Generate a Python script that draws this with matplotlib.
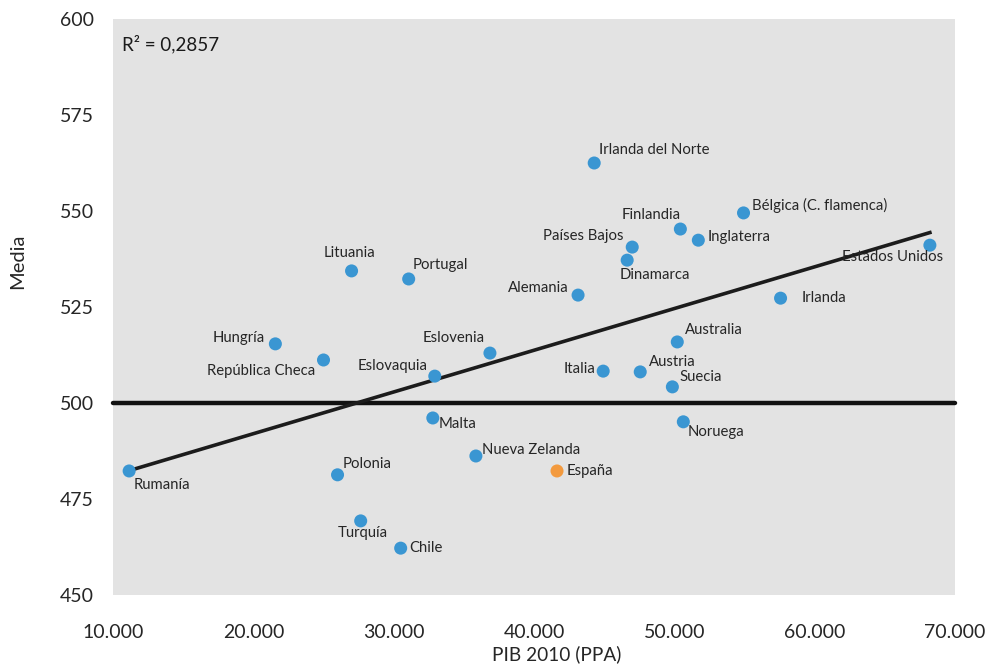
import numpy as np
import matplotlib
matplotlib.use("Agg")
import matplotlib.pyplot as plt

plt.rcParams['font.family'] = ['Lato', 'DejaVu Sans']

# PIB per cápita 2010 (PPA) y puntuación media por país/región
paises = ["Rumanía", "Polonia", "Turquía", "Chile", "Hungría", "República Checa",
          "Lituania", "Portugal", "Eslovaquia", "Malta", "Eslovenia", "Nueva Zelanda",
          "España", "Alemania", "Irlanda del Norte", "Italia", "Países Bajos",
          "Dinamarca", "Austria", "Finlandia", "Inglaterra", "Suecia", "Australia",
          "Noruega", "Bélgica (C. flamenca)", "Irlanda", "Estados Unidos"]
pib = [11150, 26000, 27650, 30500, 21570, 25000,
       27000, 31070, 32930, 32790, 36860, 35860,
       41640, 43140, 44290, 44930, 47000,
       46640, 47570, 50430, 51710, 49860, 50210,
       50640, 54930, 57570, 68210]
media = [482.3, 481.3, 469.3, 462.2, 515.4, 511.2,
         534.4, 532.3, 507.0, 496.1, 513.0, 486.2,
         482.3, 528.1, 562.5, 508.3, 540.6,
         537.2, 508.1, 545.3, 542.4, 504.2, 515.9,
         495.1, 549.5, 527.3, 541.1]
r2_texto = "R² = 0,2857"
x_ticks = [10000, 20000, 30000, 40000, 50000, 60000, 70000]
y_ticks = [450, 475, 500, 525, 550, 575, 600]
destacado = "España"

# label placement: (dx px, dy px, horizontal alignment)
ajustes = {
    "Rumanía": (4, -14, "left"), "Polonia": (5, 11, "left"), "Turquía": (2, -12, "center"),
    "Chile": (9, 0, "left"), "Hungría": (-10, 6, "right"), "República Checa": (-8, -11, "right"),
    "Lituania": (-2, 18, "center"), "Portugal": (4, 14, "left"), "Eslovaquia": (-7, 10, "right"),
    "Malta": (6, -6, "left"), "Eslovenia": (-5, 15, "right"), "Nueva Zelanda": (6, 6, "left"),
    "España": (10, 0, "left"), "Alemania": (-9, 7, "right"), "Irlanda del Norte": (5, 13, "left"),
    "Italia": (-8, 2, "right"), "Países Bajos": (-9, 11, "right"), "Dinamarca": (-8, -15, "left"),
    "Austria": (9, 10, "left"), "Finlandia": (0, 14, "right"), "Inglaterra": (9, 3, "left"),
    "Suecia": (7, 10, "left"), "Australia": (8, 12, "left"), "Noruega": (4, -10, "left"),
    "Bélgica (C. flamenca)": (8, 7, "left"), "Irlanda": (21, 0, "left"),
    "Estados Unidos": (13, -12, "right"),
}

fig = plt.figure(figsize=(9.86, 6.64), dpi=100)
ax = fig.add_axes([113 / 986, 69 / 664, 842 / 986, 576 / 664])
ax.set_facecolor("#e3e3e3")
for s in ax.spines.values():
    s.set_visible(False)

ax.set_xlim(10000, 70000)
ax.set_ylim(450, 600)

# reference line at 500
ax.axhline(500, color="#111111", lw=3.2, solid_capstyle="round", zorder=2, clip_on=False)

# linear trend
x = np.array(pib, dtype=float)
y = np.array(media, dtype=float)
b, a = np.polyfit(x, y, 1)
xs = np.array([x.min(), x.max()])
ax.plot(xs, a + b * xs, color="#1c1c1c", lw=2.6, zorder=3)

colores = ["#f39a3e" if p == destacado else "#3a96d2" for p in paises]
ax.scatter(x, y, s=88, c=colores, zorder=4, linewidths=0)

px = 72 / 100  # pixels -> points
for p, xi, yi in zip(paises, pib, media):
    dx, dy, ha = ajustes[p]
    ax.annotate(p, (xi, yi), xytext=(dx * px, dy * px), textcoords="offset points",
                ha=ha, va="center", fontsize=10.7, color="#262626", zorder=5)

ax.text(122 / 986, (664 - 44) / 664, r2_texto, transform=fig.transFigure, fontsize=13.5,
        color="#1a1a1a", ha="left", va="center")

ax.set_xticks(x_ticks)
ax.set_xticklabels([f"{v:,}".replace(",", ".") for v in x_ticks])
ax.set_yticks(y_ticks)
ax.tick_params(length=0, labelsize=14, colors="#262626")
ax.tick_params(axis="x", pad=21)
ax.tick_params(axis="y", pad=14)

ax.set_xlabel("PIB 2010 (PPA)", fontsize=13.7, color="#262626")
ax.set_ylabel("Media", fontsize=14.5, color="#262626")
ax.xaxis.set_label_coords((557 - 113) / 842, (595 - 654) / 576)
ax.yaxis.set_label_coords((18 - 113) / 842, (595 - 261) / 576)
ax.xaxis.label.set_va("center")
ax.yaxis.label.set_va("center")

fig.savefig("out.png", dpi=100)
